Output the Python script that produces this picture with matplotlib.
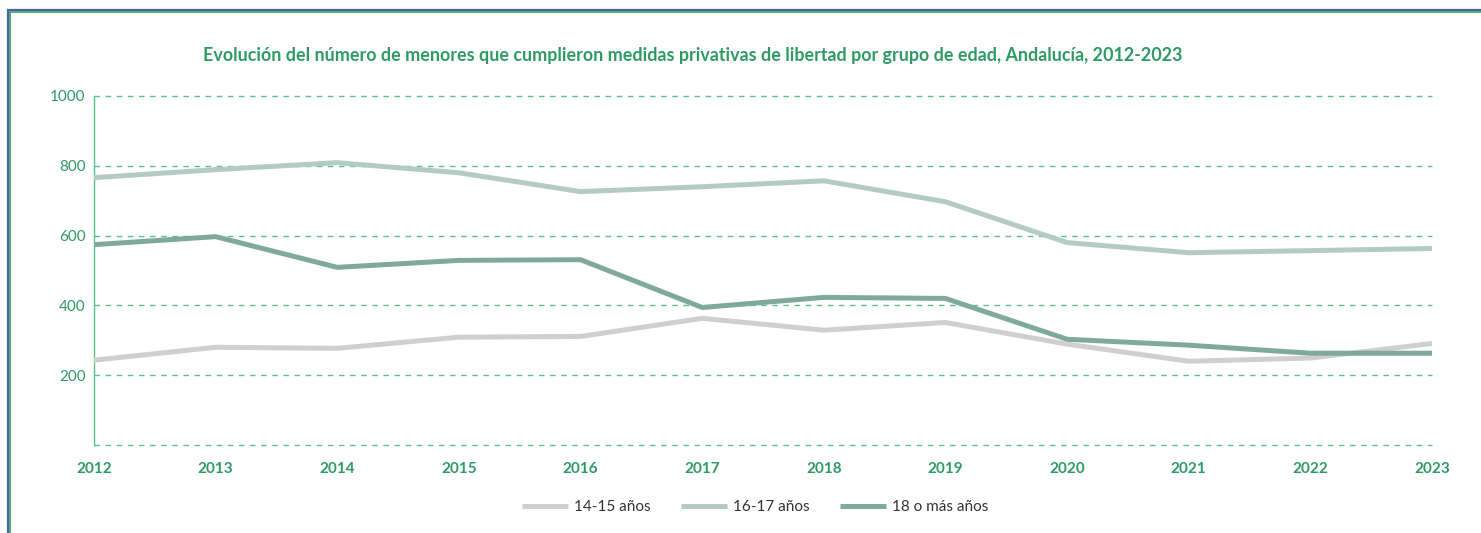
"""Evolución de menores con medidas privativas de libertad, Andalucía 2012-2023."""

import matplotlib.pyplot as plt
from matplotlib.patches import Rectangle

years = list(range(2012, 2024))
age_14_15 = [243, 280, 277, 309, 311, 363, 329, 351, 289, 240, 249, 291]
age_16_17 = [766, 789, 809, 780, 726, 740, 757, 697, 580, 551, 557, 563]
age_18_plus = [574, 597, 509, 529, 531, 394, 423, 420, 303, 286, 263, 263]
series_labels = ["14-15 años", "16-17 años", "18 o más años"]
y_ticks = [200, 400, 600, 800, 1000]

GREEN = "#2e9a64"
GRID = "#5dbf8a"
colors = ["#cfcfcf", "#b4cbc5", "#7fa99d"]

plt.rcParams["font.family"] = ["Lato", "DejaVu Sans"]

fig = plt.figure(figsize=(14.81, 5.33), dpi=100)
ax = fig.add_axes([94 / 1481, 1 - 445 / 533, (1432 - 94) / 1481, (445 - 96) / 533])

# outer frame (runs off the right and bottom edges)
fig.patches.append(Rectangle((8 / 1481, -0.1), 1.2, 1 - 10 / 533 + 0.1, transform=fig.transFigure,
                             fill=False, edgecolor="#4a62a8", linewidth=1.6, zorder=0))
fig.patches.append(Rectangle((10 / 1481, -0.1), 1.2, 1 - 12 / 533 + 0.1, transform=fig.transFigure,
                             fill=False, edgecolor="#2ea060", linewidth=1.2, zorder=0))

for vals, label, color in zip([age_14_15, age_16_17, age_18_plus], series_labels, colors):
    ax.plot(years, vals, color=color, linewidth=3.6, label=label, solid_capstyle="butt", zorder=3)

ax.set_xlim(2012, 2023)
ax.set_ylim(0, 1000)
ax.set_yticks(y_ticks)
ax.set_xticks(years)
ax.set_xticklabels([str(y) for y in years], fontweight="bold")
for gy in [0] + y_ticks:
    ax.axhline(gy, color=GRID, linewidth=1.0, linestyle=(0, (4, 4)), zorder=1, clip_on=False)

for side in ["top", "right", "bottom"]:
    ax.spines[side].set_visible(False)
ax.spines["left"].set_color(GRID)
ax.spines["left"].set_linewidth(1.0)
ax.tick_params(axis="both", length=0, colors=GREEN, labelsize=11)
ax.tick_params(axis="x", pad=12)
ax.tick_params(axis="y", pad=6)

fig.text(693 / 1481, 1 - 56 / 533, "Evolución del número de menores que cumplieron medidas privativas "
         "de libertad por grupo de edad, Andalucía, 2012-2023",
         ha="center", va="center", color=GREEN, fontsize=12.9, fontweight="bold")

leg = fig.legend(loc="center", bbox_to_anchor=(755 / 1481, 1 - 507 / 533), ncol=3, frameon=False,
                 fontsize=11, handlelength=3.0, columnspacing=2.0, handletextpad=0.4)
for text in leg.get_texts():
    text.set_color("#333333")

fig.savefig("out.png", dpi=100)
plt.close(fig)
